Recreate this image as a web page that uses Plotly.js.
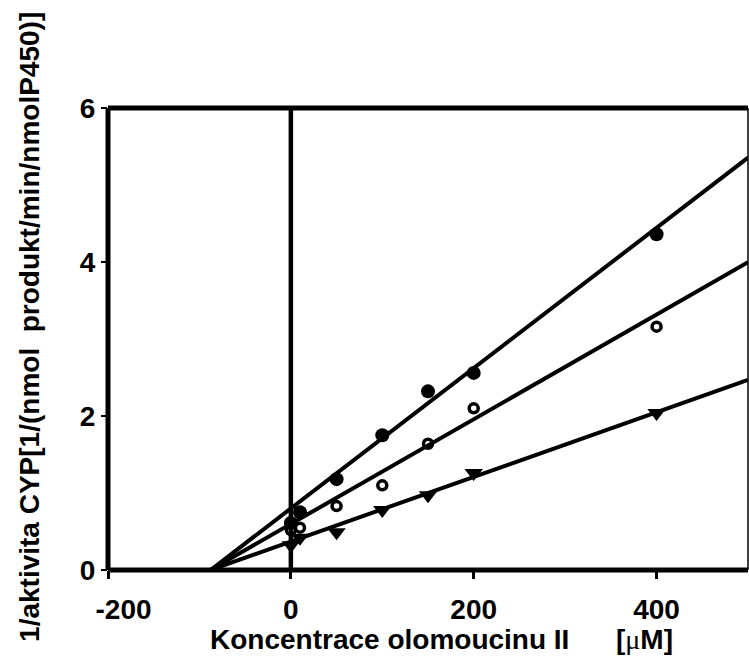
<!DOCTYPE html>
<html>
<head>
<meta charset="utf-8">
<script src="https://cdn.plot.ly/plotly-3.0.1.min.js"></script>
<style>
  html, body { margin: 0; padding: 0; background: #fff; }
  #chart { width: 749px; height: 659px; }
</style>
</head>
<body>
<div id="chart"></div>
<script>
// Inhibitor concentrations (µM)
const concentrations = [0, 10, 50, 100, 150, 200, 400];

// 1/activity for the three substrate levels
const seriesFilled   = [0.61, 0.75, 1.18, 1.75, 2.32, 2.56, 4.36];
const seriesOpen     = [0.52, 0.55, 0.83, 1.10, 1.64, 2.10, 3.16];
const seriesTriangle = [0.32, 0.42, 0.49, 0.78, 0.97, 1.26, 2.04];

// Linear fits (intercept, slope) for each series
const fitIntercepts = [0.80, 0.598, 0.369];
const fitSlopes     = [0.00911, 0.0068, 0.0042];

const xTicks = [-200, 0, 200, 400];
const yTicks = [0, 2, 4, 6];

const xMax = 500;
const font = 'Liberation Sans, Arial, sans-serif';

function fitLine(i) {
  const b = fitIntercepts[i], m = fitSlopes[i];
  const x0 = -b / m;               // where the fit crosses zero
  return { x: [x0, xMax], y: [0, b + m * xMax] };
}

const traces = [];
const markerDefs = [
  { data: seriesFilled,   marker: { symbol: 'circle', size: 14, color: '#000' } },
  { data: seriesOpen,     marker: { symbol: 'circle-open', size: 9, color: '#000', line: { width: 3.5, color: '#000' } } },
  { data: seriesTriangle, marker: { symbol: 'triangle-down', size: 16, color: '#000' } }
];

markerDefs.forEach((d, i) => {
  const f = fitLine(i);
  traces.push({
    x: f.x, y: f.y, mode: 'lines', type: 'scatter',
    line: { color: '#000', width: 4 }, hoverinfo: 'skip', showlegend: false
  });
  traces.push({
    x: concentrations, y: d.data, mode: 'markers', type: 'scatter',
    marker: d.marker, showlegend: false, cliponaxis: false
  });
});

// the leftmost label sits a little inside the frame, so pad it on the left
const xTickText = xTicks.map(v => (v === xTicks[0] ? '&nbsp;&nbsp;&nbsp;&nbsp;' : '') + '<b>' + v + '</b>');

const frame = { color: '#000', width: 5 };

const layout = {
  width: 749, height: 659,
  margin: { l: 108, r: 1, t: 108, b: 89 },
  paper_bgcolor: '#fff', plot_bgcolor: '#fff',
  showlegend: false,
  xaxis: {
    range: [-200, xMax],
    tickvals: xTicks, ticktext: xTickText,
    showgrid: false, zeroline: false, showline: false,
    ticks: 'outside', ticklen: 8, tickwidth: 3, tickcolor: '#000',
    ticklabelstandoff: 6,
    tickfont: { family: font, size: 28, color: '#000' }
  },
  yaxis: {
    range: [0, 6],
    tickvals: yTicks, ticktext: yTicks.map(v => '<b>' + v + '</b>'),
    showgrid: false, zeroline: false, showline: false,
    ticks: 'outside', ticklen: 6, tickwidth: 2.5, tickcolor: '#000',
    tickfont: { family: font, size: 28, color: '#000' }
  },
  shapes: [
    // frame: left, bottom and top edges (thick), right edge (thin)
    { type: 'line', xref: 'paper', yref: 'paper', x0: 0, x1: 0, y0: 0, y1: 1, line: frame },
    { type: 'line', xref: 'paper', yref: 'paper', x0: 0, x1: 1, y0: 0, y1: 0, line: frame },
    { type: 'line', xref: 'paper', yref: 'paper', x0: 0, x1: 1, y0: 1, y1: 1, line: frame },
    { type: 'line', xref: 'paper', yref: 'paper', x0: 1, x1: 1, y0: 0, y1: 1,
      line: { color: '#000', width: 1.5 } },
    // vertical line at zero concentration
    { type: 'line', xref: 'x', yref: 'paper', x0: 0, x1: 0, y0: 0, y1: 1,
      line: { color: '#000', width: 4.5 } }
  ],
  annotations: [
    { text: '<b>1/aktivita CYP[1/(nmol&nbsp;&nbsp;produkt/min/nmolP450)]</b>',
      xref: 'paper', yref: 'paper', x: -0.122, y: 0.526,
      xanchor: 'center', yanchor: 'middle', textangle: -90, showarrow: false,
      font: { family: font, size: 28, color: '#000' } },
    { text: '<b>Koncentrace olomoucinu II</b>',
      xref: 'paper', yref: 'paper', x: 0.4406, y: -0.1515,
      xanchor: 'center', yanchor: 'middle', showarrow: false,
      font: { family: font, size: 28, color: '#000' } },
    { text: '<b>[</b><span style="font-family:Liberation Serif, Times New Roman, serif">μ</span><b>M]</b>',
      xref: 'paper', yref: 'paper', x: 0.839, y: -0.1515,
      xanchor: 'center', yanchor: 'middle', showarrow: false,
      font: { family: font, size: 28, color: '#000' } }
  ]
};

Plotly.newPlot('chart', traces, layout, { staticPlot: true, displayModeBar: false });
</script>
</body>
</html>
